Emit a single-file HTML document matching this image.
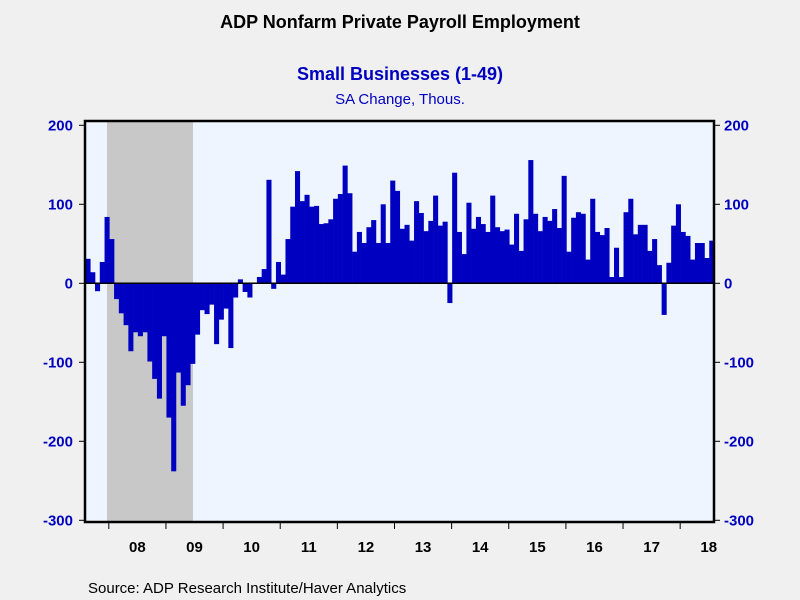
<!DOCTYPE html>
<html><head><meta charset="utf-8"><style>
body{margin:0;background:#f0f0f0;}
svg{display:block;font-family:"Liberation Sans",Arial,sans-serif;}
</style></head><body>
<svg id="chart" width="800" height="600">
<rect x="0" y="0" width="800" height="600" fill="#f0f0f0"/>
<text x="400" y="28" text-anchor="middle" font-size="18" font-weight="bold" fill="#000">ADP Nonfarm Private Payroll Employment</text>
<text x="400" y="80" text-anchor="middle" font-size="18" font-weight="bold" fill="#0000c0">Small Businesses (1-49)</text>
<text x="400" y="104" text-anchor="middle" font-size="15" fill="#0000c0">SA Change, Thous.</text>
<rect x="85" y="121" width="629" height="401" fill="#eef5fe"/>
<rect x="107" y="121" width="86" height="401" fill="#c8c8c8"/>
<g id="bars"></g>
<line x1="85" y1="283.3" x2="714" y2="283.3" stroke="#000" stroke-width="1.5"/>
<rect x="85" y="121" width="629" height="401" fill="none" stroke="#000" stroke-width="2.5"/>
<g id="axes"></g>
<text x="88" y="593" font-size="15" fill="#000">Source:  ADP Research Institute/Haver Analytics</text>
</svg>
<script>
const values = [31,14,-10,27,84,56,-20,-38,-53,-86,-62,-67,-62,-99,-121,-146,-67,-170,-238,-113,-155,-129,-102,-65,-34,-39,-27,-77,-46,-32,-82,-18,5,-11,-18,0,8,18,131,-7,27,11,56,97,142,
104,112,97,98,75,76,81,107,113,149,114,40,65,51,71,80,51,100,51,130,117,69,74,54,104,89,66,79,111,73,78,-25,140,65,37,102,69,84,75,65,111,71,
66,68,49,88,41,81,156,88,66,84,79,94,70,136,40,83,90,88,30,107,65,61,70,8,45,8,90,107,62,74,74,41,56,23,-40,26,73,100,65,60,30,51,51,32,54];
const yTicks = [200,100,0,-100,-200,-300];
const yearLabels = ["08","09","10","11","12","13","14","15","16","17","18"];
const firstYearIndex = 5;
const NS="http://www.w3.org/2000/svg";
const L=85,R=713.5,n=values.length,bw=(R-L)/n;
const y0=283.3,k=0.79;
function xs(i){return L+0.5+i*bw;}
function ys(v){return y0-k*v;}
const bars=document.getElementById('bars');
values.forEach((v,i)=>{
 const r=document.createElementNS(NS,'rect');
 r.setAttribute('x',xs(i));r.setAttribute('width',bw+0.3);
 r.setAttribute('y',Math.min(ys(v),ys(0)));r.setAttribute('height',Math.abs(ys(v)-ys(0)));
 r.setAttribute('fill','#0000c0');
 
 
 bars.appendChild(r);
});
const ax=document.getElementById('axes');
function add(tag,attrs,txt){const e=document.createElementNS(NS,tag);for(const a in attrs)e.setAttribute(a,attrs[a]);if(txt!==undefined)e.textContent=txt;ax.appendChild(e);return e;}
yTicks.forEach(t=>{
 const y=ys(t);
 let e=add('line',{x1:79,x2:85,y1:y,y2:y,stroke:'#000','stroke-width':1});
 
 
 e=add('line',{x1:714,x2:720,y1:y,y2:y,stroke:'#000','stroke-width':1});
 
 
 e=add('text',{x:73,y:y+5,'text-anchor':'end','font-size':15,'font-weight':'bold',fill:'#0000c0'},String(t));
 
 
 e=add('text',{x:724,y:y+5,'text-anchor':'start','font-size':15,'font-weight':'bold',fill:'#0000c0'},String(t));
 
 
});
yearLabels.forEach((lab,j)=>{
 const x=xs(firstYearIndex+12*j)-0.5;
 let e=add('line',{x1:x,x2:x,y1:522,y2:529,stroke:'#000','stroke-width':1});
 
 
 const cx=Math.min(x+12*bw/2,712);
 e=add('text',{x:cx,y:552,'text-anchor':'middle','font-size':15,'font-weight':'bold',fill:'#000'},lab);
 
 
});
</script>
</body></html>
